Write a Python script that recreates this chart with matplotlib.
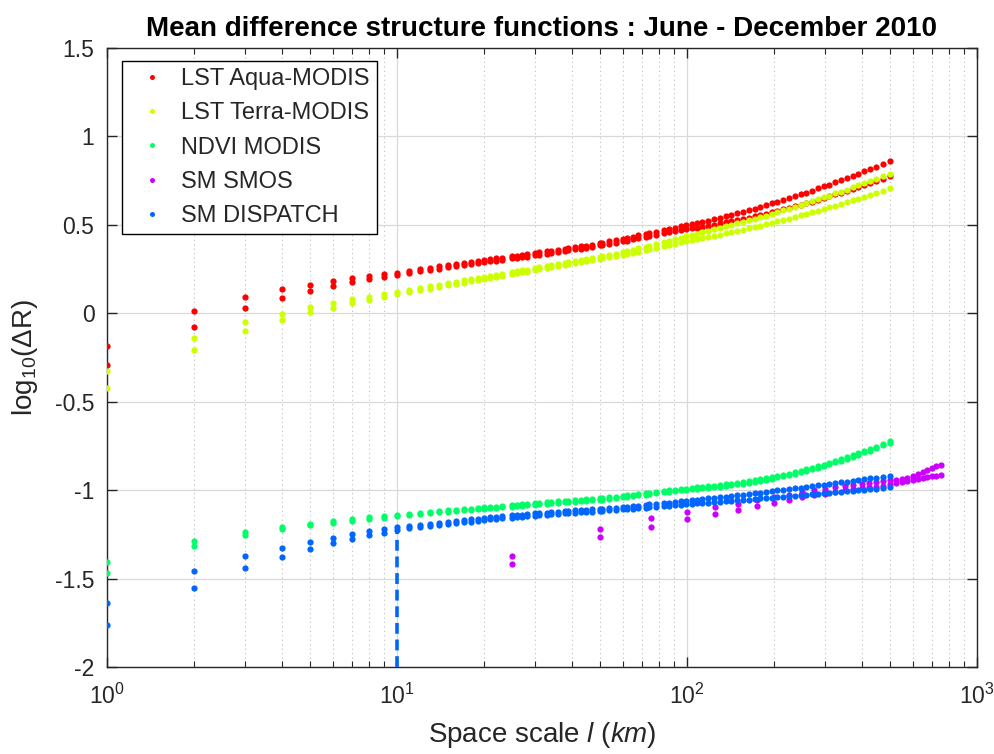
import matplotlib
matplotlib.use("Agg")
import matplotlib.pyplot as plt
from matplotlib.ticker import LogLocator, FixedLocator, NullFormatter, LogFormatterMathtext

plt.rcParams['font.family'] = ['Liberation Sans', 'DejaVu Sans']
plt.rcParams['mathtext.fontset'] = 'custom'
plt.rcParams['mathtext.rm'] = 'Liberation Sans'
plt.rcParams['mathtext.it'] = 'Liberation Sans:italic'
plt.rcParams['mathtext.bf'] = 'Liberation Sans:bold'

title = "Mean difference structure functions : June - December 2010"
labels = ["LST Aqua-MODIS", "LST Terra-MODIS", "NDVI MODIS", "SM SMOS", "SM DISPATCH"]
colors = ["#ff0000", "#ccff00", "#00ff66", "#cc00ff", "#0066ff"]

# space scales (km) for MODIS / DISPATCH series
scale = [1, 2, 3, 4, 5, 6, 7, 8, 9, 10, 11, 12, 13, 14, 15, 16, 17, 18, 19, 20, 21, 22, 23,
         25, 26, 27, 28, 30, 31, 33, 34, 36, 38, 39, 41, 43, 45, 47, 50, 51, 54, 57, 60, 62, 65,
         68, 72, 74, 78, 83, 87, 91, 95, 99, 104,
         108, 113, 118, 124, 130, 136, 142, 149, 156, 163, 171, 179, 187, 196, 205, 215, 225,
         236, 247, 258, 270, 283, 296, 310, 325, 340, 356, 373, 390, 409, 428, 450, 474, 500]

aqua_a = [-0.185, 0.011, 0.094, 0.136, 0.162, 0.182, 0.198, 0.211, 0.220, 0.230,
          0.241, 0.250, 0.258, 0.265, 0.272, 0.279, 0.285, 0.291, 0.296, 0.301, 0.306, 0.310, 0.314,
          0.322, 0.326, 0.330, 0.333, 0.341, 0.344, 0.350, 0.353, 0.359, 0.365, 0.368, 0.373, 0.378,
          0.383, 0.388, 0.396, 0.398, 0.407, 0.414, 0.420, 0.425, 0.433, 0.440, 0.448, 0.452, 0.461,
          0.470, 0.477, 0.484, 0.491, 0.497, 0.505,
          0.509, 0.516, 0.524, 0.532, 0.540, 0.549, 0.556, 0.565, 0.574, 0.583, 0.592, 0.602, 0.611,
          0.621, 0.631, 0.641, 0.651, 0.662, 0.673, 0.683, 0.694, 0.706, 0.717, 0.728, 0.741, 0.752,
          0.764, 0.777, 0.789, 0.803, 0.815, 0.830, 0.845, 0.861]
aqua_b = [-0.294, -0.075, 0.030, 0.089, 0.128, 0.154, 0.175, 0.192, 0.205, 0.216,
          0.228, 0.238, 0.246, 0.253, 0.260, 0.267, 0.273, 0.279, 0.284, 0.289, 0.294, 0.298, 0.302,
          0.310, 0.314, 0.318, 0.321, 0.329, 0.332, 0.338, 0.341, 0.347, 0.353, 0.356, 0.361, 0.366,
          0.371, 0.376, 0.384, 0.386, 0.394, 0.400, 0.406, 0.411, 0.418, 0.424, 0.432, 0.436, 0.444,
          0.452, 0.459, 0.466, 0.472, 0.477, 0.484,
          0.485, 0.490, 0.496, 0.502, 0.508, 0.514, 0.520, 0.527, 0.534, 0.541, 0.549, 0.556, 0.563,
          0.571, 0.579, 0.588, 0.596, 0.605, 0.614, 0.623, 0.632, 0.642, 0.651, 0.661, 0.672, 0.681,
          0.692, 0.703, 0.714, 0.725, 0.736, 0.749, 0.762, 0.776]
terra_a = [-0.326, -0.137, -0.051, -0.002, 0.036, 0.060, 0.079, 0.092, 0.107, 0.120,
           0.131, 0.142, 0.152, 0.161, 0.170, 0.178, 0.186, 0.193, 0.200, 0.206, 0.212, 0.218, 0.223,
           0.233, 0.238, 0.243, 0.247, 0.256, 0.260, 0.268, 0.271, 0.278, 0.285, 0.288, 0.294, 0.300,
           0.306, 0.311, 0.319, 0.323, 0.330, 0.338, 0.346, 0.352, 0.359, 0.367, 0.376, 0.382, 0.390,
           0.402, 0.411, 0.419, 0.428, 0.436, 0.445,
           0.450, 0.458, 0.465, 0.474, 0.482, 0.491, 0.499, 0.508, 0.517, 0.525, 0.535, 0.544, 0.553,
           0.563, 0.572, 0.582, 0.592, 0.603, 0.613, 0.623, 0.633, 0.645, 0.655, 0.666, 0.678, 0.688,
           0.700, 0.712, 0.723, 0.736, 0.747, 0.761, 0.775, 0.789]
terra_b = [-0.424, -0.207, -0.100, -0.038, 0.006, 0.032, 0.060, 0.075, 0.092, 0.107,
           0.119, 0.130, 0.140, 0.149, 0.158, 0.166, 0.174, 0.181, 0.188, 0.194, 0.200, 0.206, 0.211,
           0.221, 0.226, 0.231, 0.235, 0.244, 0.248, 0.256, 0.259, 0.266, 0.273, 0.276, 0.282, 0.288,
           0.294, 0.299, 0.307, 0.310, 0.316, 0.323, 0.330, 0.335, 0.341, 0.348, 0.356, 0.361, 0.368,
           0.378, 0.386, 0.393, 0.401, 0.407, 0.415,
           0.418, 0.425, 0.431, 0.438, 0.445, 0.452, 0.458, 0.466, 0.473, 0.480, 0.488, 0.496, 0.503,
           0.511, 0.520, 0.528, 0.536, 0.545, 0.554, 0.563, 0.571, 0.581, 0.590, 0.599, 0.609, 0.619,
           0.628, 0.639, 0.649, 0.660, 0.669, 0.681, 0.694, 0.706]
ndvi_a = [-1.409, -1.286, -1.239, -1.211, -1.190, -1.175, -1.164, -1.154, -1.147, -1.140,
          -1.134, -1.128, -1.123, -1.118, -1.113, -1.110, -1.107, -1.104, -1.101, -1.098, -1.095,
          -1.093, -1.090,
          -1.085, -1.083, -1.080, -1.078, -1.074, -1.072, -1.069, -1.067, -1.064, -1.061, -1.060,
          -1.057, -1.054, -1.052, -1.050, -1.047, -1.045, -1.041, -1.036, -1.032, -1.029, -1.025,
          -1.021, -1.017, -1.014, -1.010, -1.005, -1.001, -0.997, -0.994, -0.991, -0.988,
          -0.983, -0.981, -0.978, -0.975, -0.972, -0.968, -0.964, -0.960, -0.955, -0.950, -0.945,
          -0.939, -0.933, -0.927, -0.920, -0.913, -0.906, -0.898, -0.890, -0.882, -0.873, -0.864,
          -0.855, -0.845, -0.835, -0.825, -0.814, -0.803, -0.792, -0.779, -0.768, -0.754, -0.739, -0.724]
ndvi_b = [-1.471, -1.318, -1.254, -1.220, -1.198, -1.183, -1.172, -1.162, -1.155, -1.148,
          -1.142, -1.136, -1.131, -1.126, -1.121, -1.118, -1.115, -1.112, -1.109, -1.106, -1.103,
          -1.101, -1.098,
          -1.093, -1.091, -1.088, -1.086, -1.082, -1.080, -1.077, -1.075, -1.072, -1.069, -1.068,
          -1.065, -1.062, -1.060, -1.058, -1.055, -1.053, -1.049, -1.044, -1.040, -1.037, -1.033,
          -1.029, -1.025, -1.022, -1.018, -1.013, -1.009, -1.005, -1.002, -0.999, -0.996,
          -0.991, -0.989, -0.986, -0.983, -0.980, -0.976, -0.972, -0.968, -0.963, -0.958, -0.953,
          -0.947, -0.941, -0.935, -0.928, -0.921, -0.914, -0.906, -0.898, -0.890, -0.881, -0.872,
          -0.863, -0.853, -0.843, -0.833, -0.822, -0.811, -0.800, -0.787, -0.776, -0.762, -0.747, -0.732]
dispatch_a = [-1.638, -1.458, -1.375, -1.326, -1.294, -1.269, -1.249, -1.233, -1.220, -1.209,
              -1.202, -1.196, -1.190, -1.184, -1.179, -1.174, -1.170, -1.166, -1.162, -1.158, -1.154,
              -1.151, -1.148,
              -1.143, -1.140, -1.138, -1.136, -1.132, -1.130, -1.127, -1.125, -1.122, -1.119, -1.118,
              -1.115, -1.113, -1.111, -1.109, -1.106, -1.105, -1.102, -1.099, -1.096, -1.093, -1.090,
              -1.087, -1.083, -1.081, -1.078, -1.074, -1.070, -1.067, -1.064, -1.061, -1.057,
              -1.054, -1.051, -1.047, -1.043, -1.040, -1.036, -1.033, -1.029, -1.025, -1.021, -1.017,
              -1.014, -1.010, -1.006, -1.002, -0.998, -0.994, -0.990, -0.986, -0.982, -0.978, -0.973,
              -0.969, -0.965, -0.961, -0.956, -0.952, -0.948, -0.943, -0.939, -0.934, -0.930, -0.924, -0.919]
dispatch_b = [-1.763, -1.552, -1.443, -1.377, -1.333, -1.301, -1.275, -1.256, -1.241, -1.226,
              -1.216, -1.209, -1.202, -1.196, -1.191, -1.186, -1.182, -1.178, -1.174, -1.170, -1.166,
              -1.163, -1.160,
              -1.155, -1.152, -1.150, -1.148, -1.144, -1.142, -1.139, -1.137, -1.134, -1.131, -1.130,
              -1.127, -1.125, -1.123, -1.121, -1.118, -1.117, -1.114, -1.111, -1.108, -1.107, -1.104,
              -1.101, -1.099, -1.097, -1.094, -1.090, -1.088, -1.085, -1.082, -1.080, -1.077,
              -1.075, -1.073, -1.070, -1.068, -1.065, -1.062, -1.060, -1.057, -1.055, -1.053, -1.050,
              -1.047, -1.045, -1.042, -1.040, -1.037, -1.034, -1.031, -1.029, -1.026, -1.023, -1.020,
              -1.018, -1.015, -1.012, -1.009, -1.007, -1.004, -1.001, -0.998, -0.995, -0.992, -0.988, -0.985]

# SMOS scales (km)
smos_scale = [25, 50, 75, 100, 125, 150, 175, 200, 225, 250, 275, 300, 325, 350, 375,
              400, 425, 450, 475, 500, 525, 550, 575, 600, 625, 650, 675, 700, 725, 750]
smos_a = [-1.374, -1.219, -1.157, -1.123, -1.095, -1.078, -1.053, -1.038, -1.025, -1.010,
          -1.000, -0.992, -0.985, -0.978, -0.971, -0.965, -0.960, -0.955, -0.950, -0.945,
          -0.940, -0.935, -0.930, -0.920, -0.910, -0.895, -0.885, -0.875, -0.865, -0.860]
smos_b = [-1.419, -1.266, -1.208, -1.166, -1.135, -1.110, -1.087, -1.072, -1.057, -1.038,
          -1.030, -1.020, -1.010, -1.000, -0.995, -0.990, -0.985, -0.980, -0.975, -0.968,
          -0.960, -0.955, -0.950, -0.940, -0.935, -0.930, -0.925, -0.920, -0.918, -0.915]

# vertical drop of the DISPATCH curve at l = 10 km
drop_x = [10, 10]
drop_y = [-2.0, -1.215]

fig = plt.figure(figsize=(9.95, 7.54), dpi=100)
ax = fig.add_axes([0.1075, 0.1154, 0.8744, 0.8209])

ms = 4.5
series = [
    (scale, aqua_a, aqua_b),
    (scale, terra_a, terra_b),
    (scale, ndvi_a, ndvi_b),
    (smos_scale, smos_a, smos_b),
    (scale, dispatch_a, dispatch_b),
]
handles = []
for (xs, ya, yb), c, lab in zip(series, colors, labels):
    h, = ax.plot(xs, ya, 'o', color=c, ms=ms, mec='none', label=lab, zorder=3)
    ax.plot(xs, yb, 'o', color=c, ms=ms, mec='none', zorder=3)
    handles.append(h)

ax.plot(drop_x, drop_y, '--', color=colors[4], lw=2.6, dashes=(3, 1.6), zorder=3)

ax.set_xscale('log')
ax.set_xlim(1, 1000)
ax.set_ylim(-2, 1.5)
ax.set_yticks([-2, -1.5, -1, -0.5, 0, 0.5, 1, 1.5])
ax.set_yticklabels(['-2', '-1.5', '-1', '-0.5', '0', '0.5', '1', '1.5'])
ax.xaxis.set_major_locator(FixedLocator([1, 10, 100, 1000]))
ax.xaxis.set_major_formatter(LogFormatterMathtext())
ax.xaxis.set_minor_locator(LogLocator(base=10, subs=range(2, 10)))
ax.xaxis.set_minor_formatter(NullFormatter())

ax.grid(True, which='major', color='#d9d9d9', lw=0.9, ls='-')
ax.grid(True, which='minor', axis='x', color='#bdbdbd', lw=0.8, ls=(0, (1, 3)))
ax.set_axisbelow(True)

for s in ax.spines.values():
    s.set_color('#262626')
    s.set_linewidth(1.0)
ax.tick_params(which='both', direction='in', top=True, right=True, colors='#262626',
               labelsize=16.5, labelcolor='#262626')
ax.tick_params(axis='x', which='major', pad=12)
ax.tick_params(axis='y', which='major', pad=9)
ax.tick_params(which='major', length=7, width=1.0)
ax.tick_params(which='minor', length=4, width=0.8)

ax.set_title(title, fontsize=20, fontweight='bold', color='black', pad=9)
ax.set_xlabel(r"Space scale $\mathit{l}$ $\mathit{(km)}$", fontsize=20, color='#262626', labelpad=8)
ax.set_ylabel(r"log$_{10}$($\Delta$R)", fontsize=20, color='#262626', labelpad=11)

leg = ax.legend(handles=handles, loc='upper left', bbox_to_anchor=(0.0172, 0.979),
                borderaxespad=0, fontsize=17, frameon=True, fancybox=False,
                edgecolor='black', framealpha=1, handlelength=1.95, handletextpad=0.25,
                labelspacing=0.52, borderpad=0.3, markerscale=0.8)
leg.get_frame().set_linewidth(1.0)
for t in leg.get_texts():
    t.set_color('#262626')

fig.savefig('out.png', dpi=100)
